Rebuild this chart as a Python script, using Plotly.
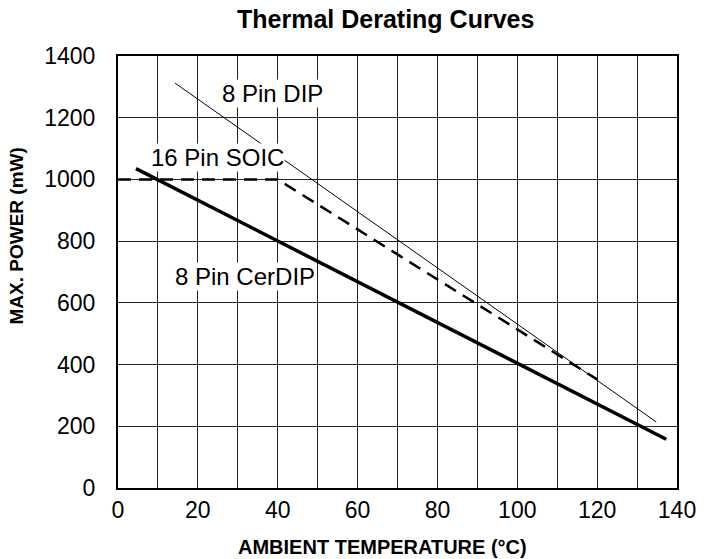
import plotly.graph_objects as go

# Data
dip_temp = [14.3, 134.8]
dip_power = [1312, 214]

soic_temp = [0, 40, 120]
soic_power = [1000, 1000, 352]

cerdip_temp = [4.5, 137.3]
cerdip_power = [1035, 158]

x_ticks = [0, 20, 40, 60, 80, 100, 120, 140]
y_ticks = [0, 200, 400, 600, 800, 1000, 1200, 1400]

labels = ["8 Pin DIP", "16 Pin SOIC", "8 Pin CerDIP"]
label_x = [38.6, 24.8, 31.8]
label_y = [1279, 1071, 687]

FONT = "Liberation Sans, Arial, sans-serif"

fig = go.Figure()
fig.add_trace(go.Scatter(x=dip_temp, y=dip_power, mode="lines",
                         line=dict(color="black", width=1), showlegend=False))
fig.add_trace(go.Scatter(x=soic_temp, y=soic_power, mode="lines",
                         line=dict(color="black", width=2.5, dash="13px,8px"), showlegend=False))
fig.add_trace(go.Scatter(x=cerdip_temp, y=cerdip_power, mode="lines",
                         line=dict(color="black", width=3.5), showlegend=False))

for t, lx, ly in zip(labels, label_x, label_y):
    fig.add_annotation(x=lx, y=ly, text=t, showarrow=False,
                       font=dict(family=FONT, size=24, color="black"),
                       bgcolor="white", borderpad=0)

# axis titles
fig.add_annotation(xref="paper", yref="paper", x=0.4733, y=-0.136,
                   text="<b>AMBIENT TEMPERATURE (°C)</b>", showarrow=False,
                   xanchor="center", yanchor="middle",
                   font=dict(family=FONT, size=20, color="black"))
fig.add_annotation(xref="paper", yref="paper", x=-0.181, y=0.584,
                   text="<b>MAX. POWER (mW)</b>", showarrow=False, textangle=-90,
                   xanchor="center", yanchor="middle",
                   font=dict(family=FONT, size=19, color="black"))

fig.update_layout(
    width=709, height=559,
    margin=dict(l=118, r=32, t=56, b=71),
    paper_bgcolor="white", plot_bgcolor="white",
    title=dict(text="<b>Thermal Derating Curves</b>", x=0.544, xanchor="center",
               xref="container", yref="container",
               y=0.9648, yanchor="middle",
               font=dict(family=FONT, size=25, color="black")),
    font=dict(family=FONT, color="black"),
    hovermode=False,
)
fig.update_xaxes(
    range=[0, 140], tickvals=x_ticks, ticktext=[str(v) for v in x_ticks],
    showgrid=True, gridcolor="#222", gridwidth=1,
    minor=dict(dtick=10, tick0=0, showgrid=True, gridcolor="#222", gridwidth=1),
    showline=True, linecolor="black", linewidth=2, mirror=True,
    ticks="", zeroline=False,
    tickfont=dict(family=FONT, size=23, color="black"),
    ticklabelstandoff=0,
)
fig.update_yaxes(
    range=[0, 1400], tickvals=y_ticks, ticktext=[str(v) for v in y_ticks],
    showgrid=True, gridcolor="#222", gridwidth=1,
    showline=True, linecolor="black", linewidth=2, mirror=True,
    ticks="", zeroline=False,
    tickfont=dict(family=FONT, size=23, color="black"),
    ticklabelstandoff=16,
)

# remove the default page margin so the figure fills the window exactly
fig.write_html("out.html", config={"displayModeBar": False},
               post_script="document.body.style.margin='0';")
